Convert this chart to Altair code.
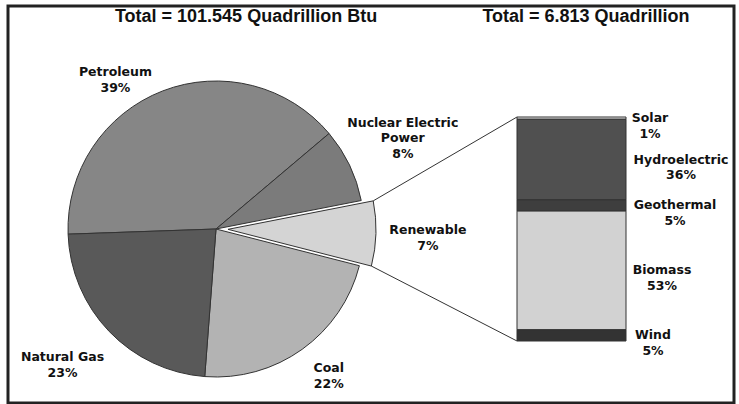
import math
import altair as alt
import pandas as pd

# ---- data ----
pie_cats = ["Petroleum", "Nuclear Electric Power", "Renewable", "Coal", "Natural Gas"]
pie_vals = [39, 8, 7, 22, 23]
bar_cats = ["Solar", "Hydroelectric", "Geothermal", "Biomass", "Wind"]
bar_vals = [1, 36, 5, 53, 5]
titles = ["Total = 101.545 Quadrillion Btu", "Total = 6.813 Quadrillion"]
exploded = "Renewable"

# ---- styles ----
pie_colors = ["#868686", "#7b7b7b", "#d4d4d4", "#b3b3b3", "#595959"]
bar_colors = ["#e6e6e6", "#505050", "#3e3e3e", "#d2d2d2", "#333333"]
EDGE = "#333333"
LABEL_FONT = "DejaVu Sans"
TITLE_FONT = "Liberation Sans"

# ---- layout (plot-area pixels) ----
W, H = 726, 397
CX, CY, R = 208, 223, 148
START = math.radians(268)
EXPLODE = 12
LABEL_R = 185
BAR_X0, BAR_X1, BAR_TOP, BAR_BOT = 509, 618, 111, 335
pie_label_offsets = {
    "Petroleum": (-34, 16),
    "Nuclear Electric Power": (20, -26),
    "Renewable": (27, -4),
    "Coal": (5, -11),
    "Natural Gas": (-20, 0),
}
bar_label_x = {"Solar": 642, "Hydroelectric": 673, "Geothermal": 667, "Biomass": 654, "Wind": 645}

# ---- tables ----
pie_total = sum(pie_vals)
pie = pd.DataFrame({"cat": pie_cats, "value": pie_vals})
pie["end"] = pie["value"].cumsum()
pie["start"] = pie["end"] - pie["value"]
pie["mid"] = (pie["start"] + pie["end"]) / 2
pie["label"] = [c.replace("Electric ", "Electric\n") + "\n" + f"{v}%" for c, v in zip(pie_cats, pie_vals)]

bar_total = sum(bar_vals)
bar = pd.DataFrame({"cat": bar_cats, "value": bar_vals})
bar["b1"] = bar["value"].cumsum()
bar["b0"] = bar["b1"] - bar["value"]
bar["bmid"] = (bar["b0"] + bar["b1"]) / 2
bar["label"] = [f"{c}\n{v}%" for c, v in zip(bar_cats, bar_vals)]

theta_scale = alt.Scale(domain=[0, pie_total], range=[START, START + 2 * math.pi])
bar_scale = alt.Scale(domain=[0, bar_total], range=[BAR_TOP, BAR_BOT])
color = alt.Color("cat:N", scale=alt.Scale(domain=pie_cats + bar_cats, range=pie_colors + bar_colors), legend=None)

def ang(v):
    return START + v / pie_total * 2 * math.pi

row = pie[pie["cat"] == exploded].iloc[0]
mid_a = ang(row["mid"])
EX = CX + EXPLODE * math.sin(mid_a)
EY = CY - EXPLODE * math.cos(mid_a)

layers = []
base_pie = alt.Chart(pie)
layers.append(
    base_pie.mark_arc(radius=R, stroke=EDGE, strokeWidth=1)
    .encode(theta=alt.Theta("start:Q", scale=theta_scale), theta2="end:Q", color=color,
            x=alt.value(CX), y=alt.value(CY))
    .transform_filter(alt.datum.cat != exploded)
)
layers.append(
    base_pie.mark_arc(radius=R, stroke=EDGE, strokeWidth=1)
    .encode(theta=alt.Theta("start:Q", scale=theta_scale), theta2="end:Q", color=color,
            x=alt.value(EX), y=alt.value(EY))
    .transform_filter(alt.datum.cat == exploded)
)

# connector lines from exploded slice to the bar
a0, a1 = ang(row["start"]), ang(row["end"])
p0 = (EX + R * math.sin(a0), EY - R * math.cos(a0))
p1 = (EX + R * math.sin(a1), EY - R * math.cos(a1))
for (px, py), by in [(p0, BAR_TOP), (p1, BAR_BOT)]:
    layers.append(
        alt.Chart(pie).mark_rule(color=EDGE, strokeWidth=1)
        .encode(x=alt.value(px), y=alt.value(py), x2=alt.value(BAR_X0), y2=alt.value(by))
        .transform_filter(alt.datum.cat == exploded)
    )

for c in pie_cats:
    dx, dy = pie_label_offsets[c]
    layers.append(
        base_pie.mark_text(radius=LABEL_R, dx=dx, dy=dy, lineBreak="\n", font=LABEL_FONT,
                           fontWeight="bold", fontSize=12.5, lineHeight=15.5, align="center",
                           baseline="middle", color="#111")
        .encode(theta=alt.Theta("mid:Q", scale=theta_scale), text="label:N",
                x=alt.value(CX), y=alt.value(CY))
        .transform_filter(alt.datum.cat == c)
    )

base_bar = alt.Chart(bar)
layers.append(
    base_bar.mark_rect(stroke=EDGE, strokeWidth=1)
    .encode(x=alt.value(BAR_X0), x2=alt.value(BAR_X1),
            y=alt.Y("b0:Q", scale=bar_scale, axis=None), y2="b1:Q", color=color)
)
for c in bar_cats:
    layers.append(
        base_bar.mark_text(lineBreak="\n", font=LABEL_FONT, fontWeight="bold", fontSize=12.5,
                           lineHeight=15.5, align="center", baseline="middle", color="#111")
        .encode(x=alt.value(bar_label_x[c]), y=alt.Y("bmid:Q", scale=bar_scale, axis=None),
                text="label:N")
        .transform_filter(alt.datum.cat == c)
    )

title_df = pd.DataFrame({"t": titles})
for t, tx in zip(titles, [238, 578]):
    layers.append(
        alt.Chart(title_df).mark_text(font=TITLE_FONT, fontWeight="bold", fontSize=18,
                                      align="center", baseline="middle", color="#111")
        .encode(x=alt.value(tx), y=alt.value(11), text="t:N")
        .transform_filter(alt.datum.t == t)
    )

chart = (
    alt.layer(*layers)
    .properties(width=W, height=H, padding={"left": 8, "top": 6, "right": 5, "bottom": 1},
                autosize="none", background="white")
    .configure_view(stroke="#222222", strokeWidth=3, fill="white")
)
chart.save("out.html", embed_options={"renderer": "svg", "actions": False})
